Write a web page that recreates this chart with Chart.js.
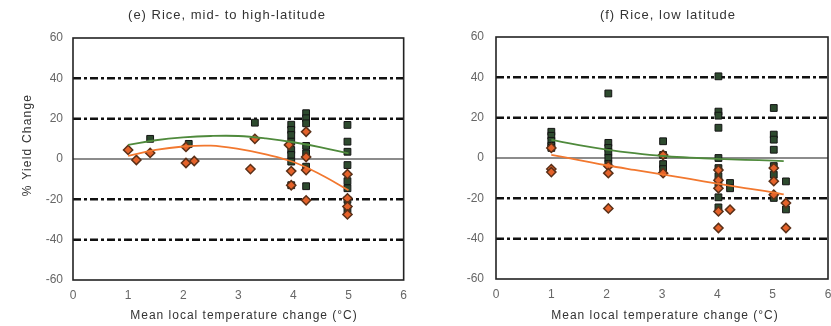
<!DOCTYPE html>
<html><head><meta charset="utf-8">
<script src="https://cdn.jsdelivr.net/npm/chart.js@4.4.1/dist/chart.umd.min.js"></script>
<style>
html,body{margin:0;padding:0;background:#fff;overflow:hidden;width:831px;height:326px;}
#wrap{position:relative;width:831px;height:326px;overflow:hidden;background:#fff;}
.c{position:absolute;top:0;}
</style></head><body>
<div id="wrap">
<div class="c" style="left:0px"><canvas id="left" width="415" height="326"></canvas></div>
<div class="c" style="left:415px"><canvas id="right" width="440" height="326"></canvas></div>
</div>
<script>
// ---- shared axes ----
const xTickValues = [0,1,2,3,4,5,6];
const yTickValues = [-60,-40,-20,0,20,40,60];
const dashedLevels = [-40,-20,20,40];
const zeroLevels = [0];

// ---- panel (e) Rice, mid- to high-latitude ----
const eTitle = "(e) Rice, mid- to high-latitude";
const eDarkX = [1.4, 2.1, 3.3, 3.96,3.96,3.96,3.96,3.96,3.96,3.96,3.96, 4.23,4.23,4.23,4.23,4.23,4.23,4.23, 4.98,4.98,4.98,4.98,4.98,4.98,4.98,4.98];
const eDarkY = [10, 7.5, 18, 17,14.4,11.9,8.6,4.5,2,-1.3,-13, 22.7,20.2,17.7,6.5,2.8,-3.8,-13.5, 16.9,8.6,3.6,-3,-11,-14.5,-20.3,-25];
const eOrangeX = [1.0, 1.15, 1.4, 2.05, 2.05, 2.2, 3.3, 3.22, 3.92, 3.96, 3.96, 4.23,4.23,4.23,4.23, 4.98,4.98,4.98,4.98];
const eOrangeY = [4.5, -0.5, 3, 6, -2, -1, 10, -5, 7, -6, -13, 13.5,1,-5.5,-20.5, -7.5,-19.5,-23.6,-27.5];
const eGreenFitX = [1, 1.5, 2, 2.5, 3, 3.5, 4, 4.5, 5];
const eGreenFitY = [7, 9.3, 10.7, 11.4, 11.4, 10.2, 8.3, 5.8, 2.8];
const eOrangeFitX = [1, 1.5, 2, 2.5, 3, 3.5, 4, 4.5, 5];
const eOrangeFitY = [1.5, 4.5, 6.2, 6.6, 5, 2.3, -1.5, -7.8, -15.5];

// ---- panel (f) Rice, low latitude ----
const fTitle = "(f) Rice, low latitude";
const fDarkX = [1,1,1,1,1, 2.03,2.03,2.03,2.03,2.03,2.03, 3.02,3.02,3.02,3.02, 4.02,4.02,4.02,4.02,4.02,4.02,4.02,4.02,4.02,4.02, 4.23,4.23, 5.02,5.02,5.02,5.02,5.02,5.02,5.02, 5.24,5.24];
const fDarkY = [13,11,8.5,6,5, 32,7.5,5,3,0,-3, 8.3,1.5,-3,-5.5, 40.5,23,21,15,0,-5,-9,-12.4,-19.5,-24.5, -12.4,-15, 24.8,11.6,9.1,4.1,-4,-8.3,-19.8, -11.6,-25.5];
const fOrangeX = [1,1,1, 2.03,2.03,2.03, 3.02,3.02, 4.02,4.02,4.02,4.02,4.02, 4.23, 5.02,5.02,5.02, 5.24,5.24];
const fOrangeY = [5,-5.5,-7, -4,-7.5,-25, 1.5,-7.5, -6,-11,-15,-26.5,-34.7, -25.6, -5,-11.5,-18.2, -22.3,-34.7];
const fGreenFitX = [1, 1.5, 2, 2.5, 3, 3.5, 4, 4.5, 5, 5.2];
const fGreenFitY = [9, 6.4, 4.2, 2.4, 1, 0.2, -0.4, -0.9, -1.3, -1.5];
const fOrangeFitX = [1, 1.5, 2, 2.5, 3, 3.5, 4, 4.5, 5, 5.2];
const fOrangeFitY = [1.5, -1, -3.6, -5.9, -8.1, -10.4, -12.7, -14.9, -17, -18];

const toPts = (xs, ys) => xs.map((x, i) => ({x, y: ys[i]}));

const framePlugin = {
  id: 'frame',
  beforeDatasetsDraw(chart) {
    const {ctx, chartArea: a, scales: {y}} = chart;
    ctx.save();
    zeroLevels.forEach(v => {
      const py = y.getPixelForValue(v);
      ctx.setLineDash([]);
      ctx.strokeStyle = '#8c8c8c';
      ctx.lineWidth = 2;
      ctx.beginPath(); ctx.moveTo(a.left, py); ctx.lineTo(a.right, py); ctx.stroke();
    });
    dashedLevels.forEach(v => {
      const py = y.getPixelForValue(v);
      ctx.setLineDash([8, 3, 3, 3]);
      ctx.strokeStyle = '#111';
      ctx.lineWidth = 2.5;
      ctx.beginPath(); ctx.moveTo(a.left, py); ctx.lineTo(a.right, py); ctx.stroke();
    });
    ctx.setLineDash([]);
    ctx.strokeStyle = '#222';
    ctx.lineWidth = 1.6;
    ctx.strokeRect(a.left, a.top, a.width, a.height);
    ctx.restore();
  },
  afterDraw(chart, args, opts) {
    const {ctx, chartArea: a} = chart;
    ctx.save();
    ctx.fillStyle = '#333';
    ctx.textAlign = 'center';
    ctx.textBaseline = 'middle';
    ctx.letterSpacing = '1px';
    ctx.font = '13px "Liberation Sans", Arial, sans-serif';
    ctx.fillText(opts.title, opts.titleX, 15);
    ctx.font = '12px "Liberation Sans", Arial, sans-serif';
    ctx.fillText('Mean local temperature change (°C)', opts.xTitleX, 316);
    if (opts.yTitle) {
      ctx.letterSpacing = '1.2px';
      ctx.translate(28, 145);
      ctx.rotate(-Math.PI / 2);
      ctx.fillText(opts.yTitle, 0, 0);
    }
    ctx.restore();
  }
};

function makeChart(id, cfg) {
  return new Chart(document.getElementById(id), {
    type: 'scatter',
    data: {
      datasets: [
        {type: 'line', data: toPts(cfg.gfx, cfg.gfy), borderColor: '#4f8a3c', borderWidth: 1.8, pointRadius: 0, tension: 0.4, fill: false, order: 0},
        {type: 'line', data: toPts(cfg.ofx, cfg.ofy), borderColor: '#f2782f', borderWidth: 1.8, pointRadius: 0, tension: 0.4, fill: false, order: 0},
        {data: toPts(cfg.dx, cfg.dy), pointStyle: 'rect', pointRadius: 4.8, backgroundColor: '#2d4a2e', borderColor: '#141414', borderWidth: 1, order: 2},
        {data: toPts(cfg.ox, cfg.oy), pointStyle: 'rectRot', pointRadius: 4.6, backgroundColor: '#e4622a', borderColor: '#5a3018', borderWidth: 1.5, order: 1}
      ]
    },
    options: {
      responsive: false,
      animation: false,
      devicePixelRatio: 1,
      layout: {padding: {top: cfg.top, right: cfg.padRight, left: 0, bottom: 0}},
      plugins: {
        legend: {display: false},
        tooltip: {enabled: false},
        frame: {title: cfg.title, titleX: cfg.titleX, xTitleX: cfg.xTitleX, yTitle: cfg.yTitle}
      },
      scales: {
        x: {
          type: 'linear', min: 0, max: 6,
          afterBuildTicks: s => { s.ticks = xTickValues.map(v => ({value: v})); },
          afterFit: s => { s.height = 326 - cfg.bottom; },
          ticks: {color: '#666', font: {size: 12, family: '"Liberation Sans", Arial, sans-serif'}, padding: 8, maxRotation: 0},
          grid: {display: false, drawTicks: false},
          border: {display: false}
        },
        y: {
          type: 'linear', min: -60, max: 60,
          afterBuildTicks: s => { s.ticks = yTickValues.map(v => ({value: v})); },
          afterFit: s => { s.width = cfg.left; },
          ticks: {color: '#666', font: {size: 12, family: '"Liberation Sans", Arial, sans-serif'}, padding: cfg.yPad},
          grid: {display: false, drawTicks: false},
          border: {display: false}
        }
      }
    },
    plugins: [framePlugin]
  });
}

makeChart('left', {
  title: eTitle, titleX: 227, xTitleX: 244, yTitle: '% Yield Change',
  top: 38, bottom: 280, left: 73, padRight: 8, yPad: 10,
  dx: eDarkX, dy: eDarkY, ox: eOrangeX, oy: eOrangeY,
  gfx: eGreenFitX, gfy: eGreenFitY, ofx: eOrangeFitX, ofy: eOrangeFitY
});
makeChart('right', {
  title: fTitle, titleX: 253, xTitleX: 250, yTitle: null,
  top: 37, bottom: 279, left: 81, padRight: 27, yPad: 12,
  dx: fDarkX, dy: fDarkY, ox: fOrangeX, oy: fOrangeY,
  gfx: fGreenFitX, gfy: fGreenFitY, ofx: fOrangeFitX, ofy: fOrangeFitY
});
</script>
</body></html>
